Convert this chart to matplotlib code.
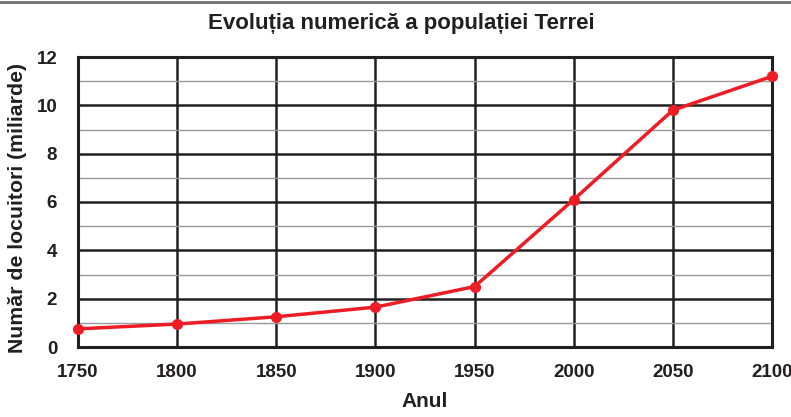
import matplotlib
matplotlib.use("Agg")
import matplotlib.pyplot as plt
from matplotlib.lines import Line2D

# data
years = [1750, 1800, 1850, 1900, 1950, 2000, 2050, 2100]
population = [0.75, 0.95, 1.25, 1.65, 2.5, 6.1, 9.8, 11.2]
y_ticks = [0, 2, 4, 6, 8, 10, 12]
y_minor = [1, 3, 5, 7, 9, 11]

plt.rcParams['font.family'] = ['Liberation Sans', 'DejaVu Sans']
plt.rcParams['font.weight'] = 'bold'

fig = plt.figure(figsize=(7.91, 4.17), dpi=100)
ax = fig.add_axes([78 / 791, 1 - 347 / 417, (772 - 78) / 791, (347 - 57) / 417])

ax.set_xlim(1750, 2100)
ax.set_ylim(0, 12)
ax.set_xticks(years)
ax.set_yticks(y_ticks)
ax.set_yticks(y_minor, minor=True)

# grid: black major lines, gray minor lines
ax.grid(True, which='major', color='#231f20', linewidth=1.8)
ax.grid(True, which='minor', axis='y', color='#9a9a9a', linewidth=1.0)
ax.set_axisbelow(True)

ax.plot(years, population, color='#ee1c25', linewidth=2.5, marker='o',
        markersize=7, zorder=3, clip_on=False)

for s in ax.spines.values():
    s.set_color('#231f20')
    s.set_linewidth(2.2)

ax.tick_params(which='both', length=0)
ax.tick_params(axis='x', labelsize=13.5, colors='#231f20', pad=12)
ax.tick_params(axis='y', labelsize=13.5, colors='#231f20', pad=15)
for lbl in ax.get_xticklabels() + ax.get_yticklabels():
    lbl.set_fontweight('bold')

ax.set_xlabel('Anul', fontsize=15, fontweight='bold', color='#231f20', labelpad=8)
ax.set_ylabel('Număr de locuitori (miliarde)', fontsize=15.3, fontweight='bold',
              color='#231f20')
ax.yaxis.set_label_coords(-0.073, 0.48)
fig.text(0.507, 1 - 24 / 417, 'Evoluția numerică a populației Terrei', fontsize=16,
         fontweight='bold', color='#231f20', ha='center', va='center')

# thin gray rule at the very top of the figure
fig.add_artist(Line2D([0, 1], [1 - 2 / 417, 1 - 2 / 417], color='#707070',
                      linewidth=2, transform=fig.transFigure))

fig.savefig('out.png', dpi=100)
